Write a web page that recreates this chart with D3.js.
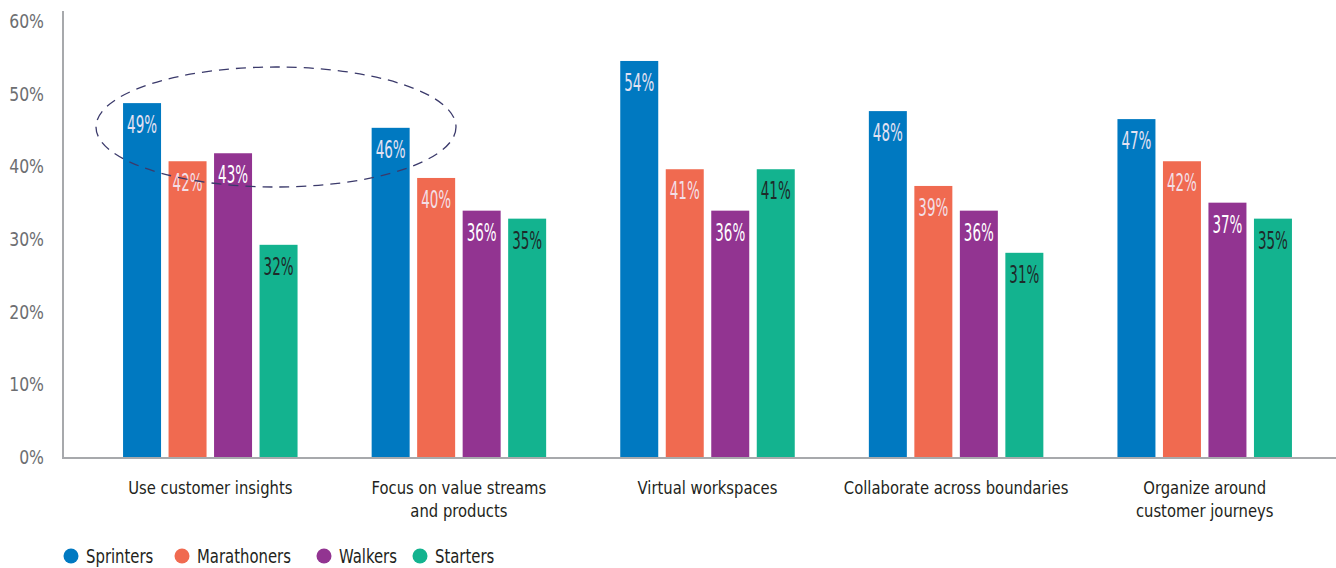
<!DOCTYPE html>
<html><head><meta charset="utf-8">
<script src="https://cdn.jsdelivr.net/npm/d3@7"></script>
<style>
body{margin:0;background:#fff;}
svg text{font-family:"DejaVu Sans Condensed","DejaVu Sans",sans-serif;}
</style></head>
<body><svg id="c" width="1336" height="568"></svg>
<script>
const categories = ["Use customer insights", "Focus on value streams\nand products", "Virtual workspaces", "Collaborate across boundaries", "Organize around\ncustomer journeys"];
const seriesNames = ["Sprinters", "Marathoners", "Walkers", "Starters"];
const seriesColors = ["#0079C1", "#F06A50", "#923491", "#13B38F"];
const labelColors = ["#e4e2f2", "#f3dfe6", "#ffffff", "#1e2a2a"];
// bar heights as drawn (percent)
const sprinters   = [48.7, 45.3, 54.5, 47.6, 46.5];
const marathoners = [40.7, 38.4, 39.6, 37.3, 40.7];
const walkers     = [41.8, 33.9, 33.9, 33.9, 35.0];
const starters    = [29.2, 32.8, 39.6, 28.1, 32.8];
// printed labels
const sprintersLbl   = ["49%", "46%", "54%", "48%", "47%"];
const marathonersLbl = ["42%", "40%", "41%", "39%", "42%"];
const walkersLbl     = ["43%", "36%", "36%", "36%", "37%"];
const startersLbl    = ["32%", "35%", "41%", "31%", "35%"];
const yTicks = [0, 10, 20, 30, 40, 50, 60];

const series = [sprinters, marathoners, walkers, starters];
const seriesLbl = [sprintersLbl, marathonersLbl, walkersLbl, startersLbl];

const svg = d3.select("#c");
const y = d3.scaleLinear().domain([0, 60]).range([457, 21]);
const x = d3.scaleBand().domain(categories).range([86, 1329]).padding(0);
const xi = d3.scaleBand().domain(seriesNames).range([0, 174.5]).paddingInner(0.165).paddingOuter(0);

// y tick labels
const yg = svg.append("g");
yTicks.forEach(t => {
  yg.append("text").attr("transform", `translate(44,${y(t) + 7}) scale(0.87,1)`)
    .attr("text-anchor", "end").attr("fill", "#6d6e71").style("font-size", "20px").text(t + "%");
});

// bars
const groups = svg.append("g").selectAll("g").data(categories).join("g")
  .attr("transform", d => `translate(${x(d) + x.bandwidth()/2 - 87.25},0)`);
groups.each(function(cat, ci) {
  const g = d3.select(this);
  seriesNames.forEach((s, si) => {
    const v = series[si][ci];
    g.append("rect").attr("x", xi(s)).attr("y", y(v)).attr("width", xi.bandwidth())
      .attr("height", y(0) - y(v)).attr("fill", seriesColors[si]);
    g.append("text")
      .attr("transform", `translate(${xi(s) + xi.bandwidth()/2},${y(v) + 30}) scale(0.6,1)`)
      .attr("text-anchor", "middle").attr("fill", labelColors[si])
      .style("font-size", "25px")
      .text(seriesLbl[si][ci]);
  });
});

// axes lines
svg.append("line").attr("x1", 63).attr("x2", 63).attr("y1", 11).attr("y2", 458)
  .attr("stroke", "#a7a9ac").attr("stroke-width", 2);
svg.append("line").attr("x1", 62).attr("x2", 1336).attr("y1", 458).attr("y2", 458)
  .attr("stroke", "#a7a9ac").attr("stroke-width", 2);

// category labels
svg.append("g").selectAll("text").data(categories).join("text")
  .attr("transform", d => `translate(${x(d) + x.bandwidth()/2},494) scale(0.94,1)`)
  .attr("text-anchor", "middle").attr("fill", "#231f20").style("font-size", "17.5px")
  .each(function(d) {
    const lines = d.split("\n");
    d3.select(this).selectAll("tspan").data(lines).join("tspan")
      .attr("x", 0).attr("dy", (l, i) => i === 0 ? 0 : 23).text(l => l);
  });

// dashed ellipse
svg.append("ellipse").attr("cx", 276).attr("cy", 127).attr("rx", 180).attr("ry", 60)
  .attr("fill", "none").attr("stroke", "#3b3a6b").attr("stroke-width", 1.3)
  .attr("stroke-dasharray", "10,7");

// legend
const legX = [71, 182, 324, 420];
const leg = svg.append("g").selectAll("g").data(seriesNames).join("g")
  .attr("transform", (d, i) => `translate(${legX[i]},556)`);
leg.append("circle").attr("r", 7.5).attr("fill", (d, i) => seriesColors[i]);
leg.append("text").attr("transform", "translate(15,6.5) scale(0.87,1)")
  .attr("fill", "#231f20").style("font-size", "19px").text(d => d);
</script></body></html>
